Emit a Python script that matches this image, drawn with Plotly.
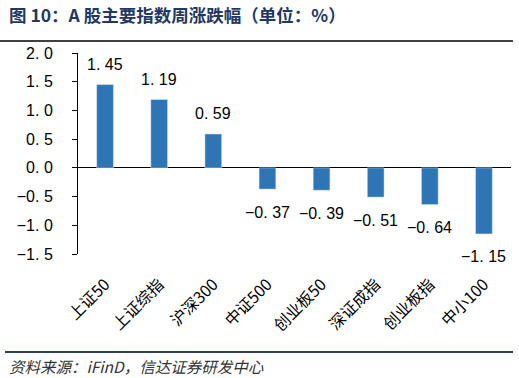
import plotly.graph_objects as go

categories = ["上证50", "上证综指", "沪深300", "中证500", "创业板50", "深证成指", "创业板指", "中小100"]
values = [1.45, 1.19, 0.59, -0.37, -0.39, -0.51, -0.64, -1.15]
value_labels = ["1. 45", "1. 19", "0. 59", "−0. 37", "−0. 39", "−0. 51", "−0. 64", "−1. 15"]
y_ticks = [2.0, 1.5, 1.0, 0.5, 0.0, -0.5, -1.0, -1.5]
y_tick_labels = ["2. 0", "1. 5", "1. 0", "0. 5", "0. 0", "−0. 5", "−1. 0", "−1. 5"]

title_text = "图 10：A 股主要指数周涨跌幅（单位：%）"
source_text = "资料来源：iFinD，信达证券研发中心"

BAR = "#2E75B6"
W, H = 519, 378
ML, MR, MT, MB = 78, 8, 53, 124

fig = go.Figure()
fig.add_trace(go.Bar(x=categories, y=values, marker_color=BAR, width=0.31,
                     hoverinfo="skip"))

for c, v, t in zip(categories, values, value_labels):
    fig.add_annotation(x=c, y=v, text=t, showarrow=False, xanchor="center",
                       yanchor="middle", yshift=20 if v >= 0 else -23,
                       font=dict(family="Arial, Liberation Sans", size=16, color="#000"))

fig.update_layout(
    width=W, height=H,
    margin=dict(l=ML, r=MR, t=MT, b=MB, autoexpand=False),
    plot_bgcolor="white", paper_bgcolor="white",
    showlegend=False,
    bargap=0.69,
    font=dict(family="Liberation Sans, Arial", color="#000"),
)
fig.update_xaxes(
    showline=False, showgrid=False, zeroline=False, ticks="",
    tickangle=-45, automargin=False,
    tickfont=dict(family="Noto Sans CJK SC", size=16, color="#000"),
    ticklabelstandoff=17,
)
fig.update_yaxes(
    range=[-1.5, 2.0], tickvals=y_ticks, ticktext=y_tick_labels,
    showline=True, linecolor="#000", linewidth=1,
    ticks="outside", ticklen=5, tickcolor="#000",
    showgrid=False, zeroline=True, zerolinecolor="#000", zerolinewidth=1,
    tickfont=dict(family="Arial, Liberation Sans", size=16, color="#000"),
    ticklabelstandoff=16, automargin=False,
)

pw, ph = W - ML - MR, H - MT - MB
def px_x(x): return (x - ML) / pw
def px_y(y): return 1 - (y - MT) / ph

# title and source
fig.add_annotation(xref="paper", yref="paper", x=px_x(7), y=px_y(15),
                   xanchor="left", yanchor="middle",
                   text="<b>" + title_text + "</b>", showarrow=False,
                   font=dict(family="Noto Sans CJK SC", size=17.5, color="#1F3864"))
fig.add_annotation(xref="paper", yref="paper", x=px_x(7), y=px_y(366),
                   xanchor="left", yanchor="middle",
                   text="<i>" + source_text + "</i>", showarrow=False,
                   font=dict(family="Noto Sans CJK SC", size=15.5, color="#333"))

fig.add_shape(type="line", xref="paper", yref="paper", x0=px_x(0), x1=px_x(513),
              y0=px_y(41), y1=px_y(41), line=dict(color="#404040", width=2))
fig.add_shape(type="line", xref="paper", yref="paper", x0=px_x(5), x1=px_x(513),
              y0=px_y(352), y1=px_y(352), line=dict(color="#2F3E5C", width=2))

fig.write_html("out.html", config={"displayModeBar": False},
               post_script="document.body.style.margin='0';document.body.style.overflow='hidden';")
